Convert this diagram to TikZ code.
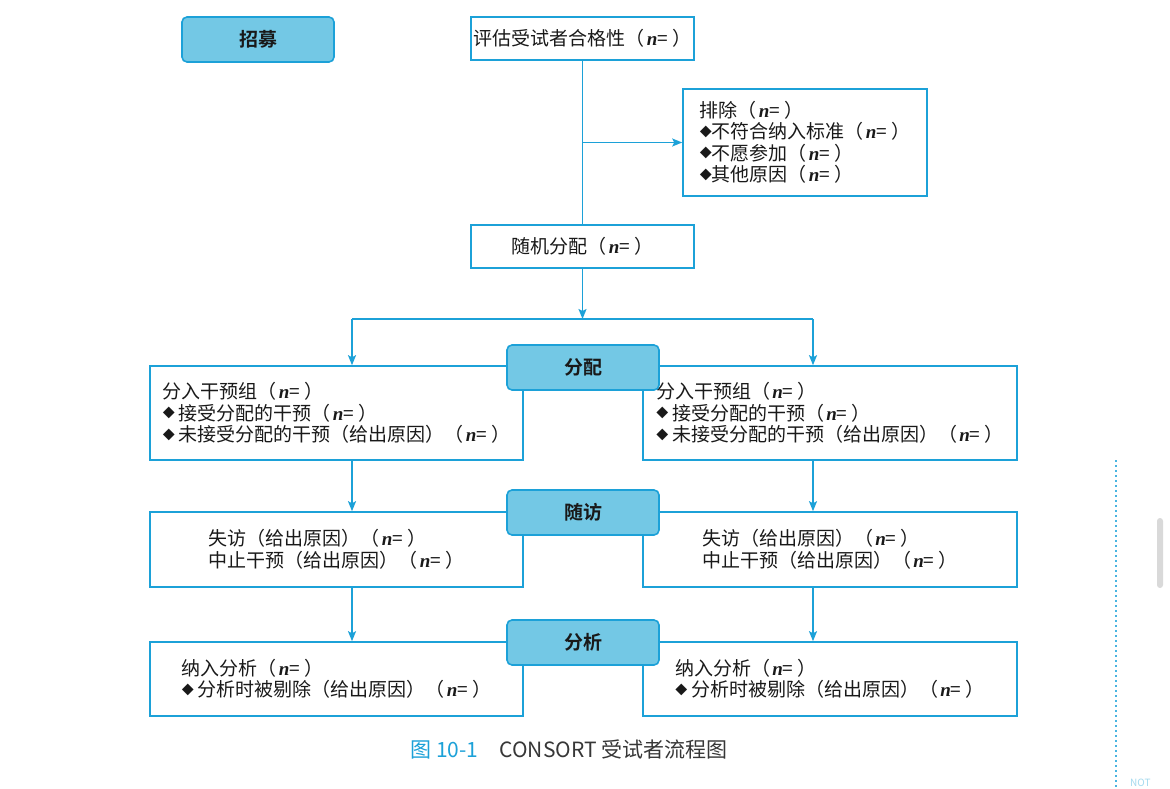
\documentclass[tikz,border=0pt]{standalone}
\usepackage{fontspec}
\setmainfont{Noto Sans CJK SC}[BoldFont={Noto Sans CJK SC Bold}]
\newfontfamily\latinserif{Liberation Serif}
\usepackage{tikz}
\usetikzlibrary{positioning,arrows.meta,calc}

\definecolor{lineblue}{RGB}{28,161,216}
\definecolor{hdrfill}{RGB}{115,200,229}
\definecolor{txtdark}{RGB}{25,25,25}
\definecolor{capgray}{RGB}{55,55,55}

\newcommand{\nn}{\hspace{2pt}{\latinserif\bfseries\itshape n}=\ }
\newcommand{\dia}{\raisebox{2.5pt}{\fontsize{12}{12}\selectfont ◆}}

\tikzset{
  wbox/.style={draw=lineblue, line width=1.6pt, fill=white, align=left, text=txtdark,
    font=\fontsize{19}{21.5}\selectfont, inner sep=1pt},
  hdr/.style={draw=lineblue, line width=1.6pt, fill=hdrfill, rounded corners=5pt,
    minimum width=152pt, minimum height=45pt, text=txtdark, font=\fontsize{19}{21}\selectfont\bfseries},
  arr/.style={draw=lineblue, line width=1.6pt, -{Stealth[length=10pt,width=8pt,inset=2pt]}},
  ln/.style={draw=lineblue, line width=1.6pt}
}

\begin{document}
\begin{tikzpicture}[x=1pt,y=-1pt]
\useasboundingbox (0,0) rectangle (1170,789);
\fill[white] (0,0) rectangle (1170,789);

% top part
\node[hdr] (recruit) at (258,39.5) {招募};
\node[wbox, minimum width=223pt, minimum height=43pt] (assess) at (582.5,38.5) {评估受试者合格性（\nn）};
\node[wbox, minimum width=244pt, minimum height=107pt] (excl) at (805,142.5)
  {排除（\nn）\\\dia 不符合纳入标准（\nn）\\\dia 不愿参加（\nn）\\\dia 其他原因（\nn）};
\node[wbox, minimum width=223pt, minimum height=43pt] (rand) at (582.5,246.5) {随机分配（\nn）};

\coordinate (br) at (assess.south |- excl.west);
\draw[ln] (assess.south) -- (rand.north);
\draw[arr] (br) -- (excl.west);

% two arms
\node[wbox, minimum width=373pt, minimum height=94pt] (l1) at (336.5,413)
  {分入干预组（\nn）\\\dia\hspace{4pt}接受分配的干预（\nn）\\\dia\hspace{4pt}未接受分配的干预（给出原因）（\nn）};
\node[wbox, minimum width=374pt, minimum height=94pt] (r1) at (830,413)
  {分入干预组（\nn）\\\dia\hspace{4pt}接受分配的干预（\nn）\\\dia\hspace{4pt}未接受分配的干预（给出原因）（\nn）};
\node[wbox, minimum width=373pt, minimum height=75pt] (l2) at (336.5,549.5)
  {失访（给出原因）（\nn）\\中止干预（给出原因）（\nn）};
\node[wbox, minimum width=374pt, minimum height=75pt] (r2) at (830,549.5)
  {失访（给出原因）（\nn）\\中止干预（给出原因）（\nn）};
\node[wbox, minimum width=373pt, minimum height=74pt] (l3) at (336.5,679)
  {纳入分析（\nn）\\\dia\hspace{4pt}分析时被剔除（给出原因）（\nn）};
\node[wbox, minimum width=374pt, minimum height=74pt] (r3) at (830,679)
  {纳入分析（\nn）\\\dia\hspace{4pt}分析时被剔除（给出原因）（\nn）};

\node[hdr] (alloc) at (583,367.5) {分配};
\node[hdr] (follow) at (583,512.5) {随访};
\node[hdr] (anal) at (583,642.5) {分析};

% connectors
\coordinate (split) at (582.5,319);
\coordinate (colL) at (352,0);
\coordinate (colR) at (813,0);
\draw[arr] (rand.south) -- (split);
\draw[ln] (split -| colL) -- (split -| colR);
\draw[arr] (split -| colL) -- (l1.north -| colL);
\draw[arr] (split -| colR) -- (r1.north -| colR);
\draw[arr] (l1.south -| colL) -- (l2.north -| colL);
\draw[arr] (r1.south -| colR) -- (r2.north -| colR);
\draw[arr] (l2.south -| colL) -- (l3.north -| colL);
\draw[arr] (r2.south -| colR) -- (r3.north -| colR);

% caption
\node[font=\fontsize{21}{21}\selectfont, text=lineblue, anchor=base west] (fignum) at (407,757) {图 10-1};
\node[font=\fontsize{21}{21}\selectfont, text=capgray, right=14pt of fignum.base east, anchor=base west] (captxt) {CONSORT 受试者流程图};

% page edge
\draw[lineblue!80, line width=2pt, dash pattern=on 2pt off 3pt] (1116,460) -- (1116,789);
\fill[black!15, rounded corners=3pt] (1157,518) rectangle (1163,588);
\node[font=\fontsize{10}{10}\selectfont, text=lineblue!40, anchor=south west, inner sep=1pt] (note) at (1129,788) {NOT};
\end{tikzpicture}
\end{document}
